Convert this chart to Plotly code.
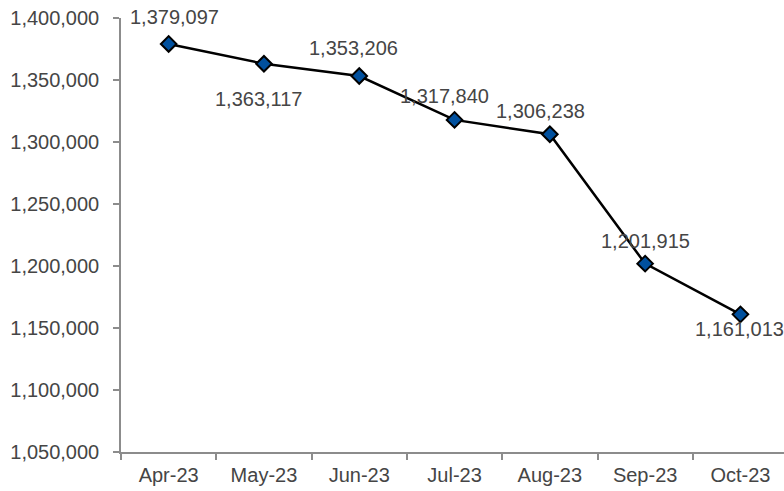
import plotly.graph_objects as go

months = ["Apr-23", "May-23", "Jun-23", "Jul-23", "Aug-23", "Sep-23", "Oct-23"]
values = [1379097, 1363117, 1353206, 1317840, 1306238, 1201915, 1161013]
y_ticks = [1050000, 1100000, 1150000, 1200000, 1250000, 1300000, 1350000, 1400000]

# label offsets (px) relative to each point: (xshift, yshift)
label_shifts = [(6, 27), (-5, -35), (-6, 28), (-10, 24), (-9, 23), (0, 23), (-1, -15)]

text_color = "#454545"
axis_color = "#8c8c8c"
font_family = "Liberation Sans, Arial, sans-serif"

fig = go.Figure()
fig.add_trace(go.Scatter(
    x=months, y=values, mode="lines+markers",
    line=dict(color="black", width=2.5),
    marker=dict(symbol="diamond", size=12, color="#00509e",
                line=dict(color="black", width=2)),
    hoverinfo="skip", showlegend=False, cliponaxis=False,
))

for m, v, (dx, dy) in zip(months, values, label_shifts):
    fig.add_annotation(x=m, y=v, text=f"{v:,}", showarrow=False,
                       xshift=dx, yshift=dy,
                       font=dict(family=font_family, size=20, color=text_color))

fig.update_layout(
    width=784, height=491,
    margin=dict(l=121, r=0, t=18, b=39, autoexpand=False),
    paper_bgcolor="white", plot_bgcolor="white",
    font=dict(family=font_family, size=20, color=text_color),
)
fig.update_xaxes(
    type="category", range=[-0.5, 6.457], automargin=False,
    showgrid=False, showline=True, linecolor=axis_color, linewidth=1.5,
    ticks="outside", tickson="boundaries", ticklen=6, tickcolor=axis_color,
    tickwidth=1.5, tickfont=dict(size=20, color=text_color),
    ticklabelstandoff=4,
)
fig.update_yaxes(
    range=[1050000, 1400000], tickvals=y_ticks, automargin=False,
    ticktext=[f"{t:,}" for t in y_ticks], ticklabeloverflow="allow",
    showgrid=False, showline=True, linecolor=axis_color, linewidth=1.5,
    ticks="outside", ticklen=6, tickcolor=axis_color, tickwidth=1.5,
    tickfont=dict(size=20, color=text_color), zeroline=False,
    ticklabelstandoff=10,
)

fig.write_html("out.html", config={"displayModeBar": False},
               post_script="document.body.style.margin='0';document.body.style.overflow='hidden';")
